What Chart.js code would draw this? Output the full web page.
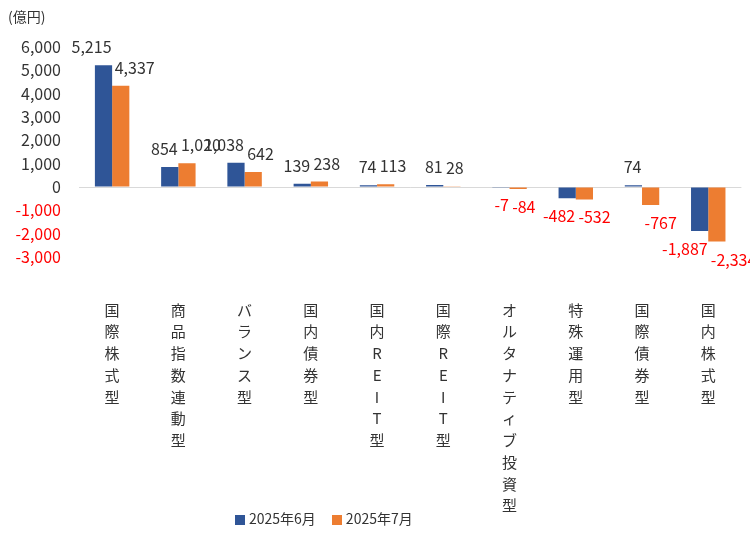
<!DOCTYPE html>
<html><head><meta charset="utf-8">
<script src="https://cdn.jsdelivr.net/npm/chart.js@4"></script>
<style>
body{margin:0;background:#fff;font-family:"Noto Sans CJK JP",sans-serif;}
#wrap{position:relative;width:750px;height:540px;}
#legend{position:absolute;left:235px;top:508px;font-size:14px;color:#333;display:flex;gap:16px;}
#legend span i{display:inline-block;width:10px;height:10px;margin-right:4px;vertical-align:-1px;}
#unit{position:absolute;left:8px;top:6px;font-size:14px;color:#333;}
</style></head>
<body>
<div id="wrap">
<canvas id="c" width="750" height="540"></canvas>
<div id="unit">(億円)</div>
<div id="legend"><span><i style="background:#2F5597"></i>2025年6月</span><span><i style="background:#ED7D31"></i>2025年7月</span></div>
</div>
<script>
const categories = ['国際株式型','商品指数連動型','バランス型','国内債券型','国内REIT型','国際REIT型','オルタナティブ投資型','特殊運用型','国際債券型','国内株式型'];
const june = [5215, 854, 1038, 139, 74, 81, -7, -482, 74, -1887];
const july = [4337, 1020, 642, 238, 113, 28, -84, -532, -767, -2334];
const yTicks = [-3000, -2000, -1000, 0, 1000, 2000, 3000, 4000, 5000, 6000];

const valueLabels = {
    id: 'valueLabels',
    afterDatasetsDraw(chart) {
        const ctx = chart.ctx;
        ctx.save();
        ctx.font = '16px "Noto Sans CJK JP", sans-serif';
        chart.data.datasets.forEach((ds, di) => {
            chart.getDatasetMeta(di).data.forEach((bar, i) => {
                const v = ds.data[i];
                ctx.textAlign = di === 0 ? 'right' : 'left';
                const x = di === 0 ? bar.x + 8 : bar.x - 6;
                ctx.fillStyle = v < 0 ? '#FF0000' : '#333';
                ctx.textBaseline = v < 0 ? 'top' : 'bottom';
                const y = v < 0 ? bar.y + 10 : bar.y - 10;
                ctx.fillText(v.toLocaleString('en-US'), x, y);
            });
        });
        ctx.restore();
    }
};

new Chart(document.getElementById('c'), {
    type: 'bar',
    data: {
        labels: categories.map(s => s.split('')),
        datasets: [
            {label: '2025年6月', data: june, backgroundColor: '#2F5597', barPercentage: 1, categoryPercentage: 0.52},
            {label: '2025年7月', data: july, backgroundColor: '#ED7D31', barPercentage: 1, categoryPercentage: 0.52}
        ]
    },
    options: {
        responsive: false,
        animation: false,
        layout: {padding: {top: 47, right: 5, left: 0, bottom: 0}},
        plugins: {legend: {display: false}, tooltip: {enabled: false}},
        scales: {
            x: {
                grid: {display: false},
                border: {display: false},
                ticks: {padding: 34, maxRotation: 0, autoSkip: false, color: '#333', font: {size: 15, lineHeight: 1.45, family: '"Noto Sans CJK JP"'}},
                afterFit: s => { s.height = 283; }
            },
            y: {
                min: -3000, max: 6000,
                afterBuildTicks: s => { s.ticks = yTicks.map(v => ({value: v})); },
                grid: {display: true, drawOnChartArea: true, drawTicks: false,
                       color: c => c.tick && c.tick.value === 0 ? '#D9D9D9' : 'transparent'},
                border: {display: false},
                ticks: {
                    padding: 18,
                    font: {size: 16, family: '"Noto Sans CJK JP"'},
                    color: c => c.tick.value < 0 ? '#FF0000' : '#333',
                    callback: v => v.toLocaleString('en-US')
                },
                afterFit: s => { s.width = 79; }
            }
        }
    },
    plugins: [valueLabels]
});
</script>
</body></html>
